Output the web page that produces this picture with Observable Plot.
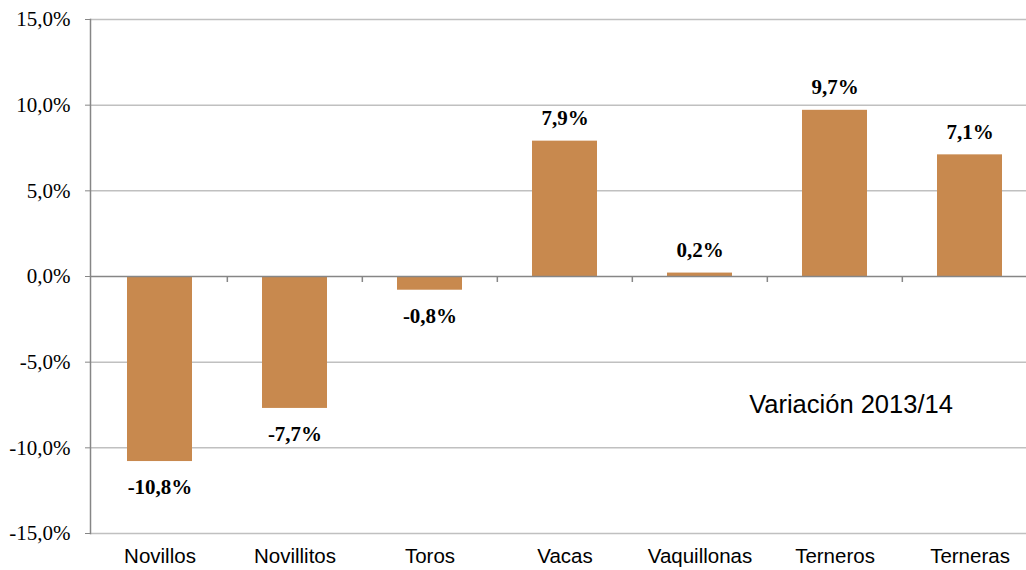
<!DOCTYPE html>
<html>
<head>
<meta charset="utf-8">
<script src="https://cdn.jsdelivr.net/npm/d3@7"></script>
<script src="https://cdn.jsdelivr.net/npm/@observablehq/plot@0.6"></script>
<style>
  html, body { margin: 0; padding: 0; background: #fff; overflow: hidden; }
  #chart { width: 1026px; height: 570px; }
</style>
</head>
<body>
<div id="chart"></div>
<script>
const categories = ["Novillos", "Novillitos", "Toros", "Vacas", "Vaquillonas", "Terneros", "Terneras"];
const values = [-10.8, -7.7, -0.8, 7.9, 0.2, 9.7, 7.1];
const yTicks = [-15, -10, -5, 0, 5, 10, 15];
const annotation = "Variación 2013/14";

const data = categories.map((c, i) => ({category: c, value: values[i]}));
const fmt = v => v.toFixed(1).replace(".", ",") + "%";

const xRange = [90.6, 1038];
const step = (xRange[1] - xRange[0]) / categories.length;

const barColor = "#C8894E";
const gridColor = "#C0C0C0";
const axisColor = "#868686";

const labelStyle = {
  x: "category", y: "value", text: d => fmt(d.value),
  fontSize: 21, fontWeight: "bold", fontFamily: "Liberation Serif", fill: "#000"
};

const chart = Plot.plot({
  width: 1026,
  height: 570,
  marginLeft: 90,
  marginRight: 0,
  marginTop: 19,
  marginBottom: 37,
  style: {background: "#fff", overflow: "visible"},
  x: {domain: categories, range: xRange, paddingInner: 0.52, paddingOuter: 0.26, label: null},
  y: {domain: [-15, 15], label: null},
  marks: [
    Plot.ruleY(yTicks.filter(d => d !== 0), {stroke: gridColor, strokeWidth: 1.5}),
    Plot.barY(data, {x: "category", y: "value", fill: barColor}),
    Plot.ruleY([0], {stroke: axisColor, strokeWidth: 1.5}),
    Plot.ruleX(categories.slice(1), {x: d => d, y1: 0, y2: -0.35, dx: -step / 2, stroke: axisColor, strokeWidth: 1.5}),
    Plot.frame({anchor: "left", stroke: axisColor, strokeWidth: 1.5}),
    Plot.axisY({
      ticks: yTicks, tickSize: 5, tickPadding: 15, tickFormat: fmt,
      stroke: axisColor, fontSize: 21, fontFamily: "Liberation Serif", fill: "#000"
    }),
    Plot.axisX({
      tickSize: 0, tickPadding: 15, fontSize: 20.5, fontFamily: "Liberation Sans", fill: "#000"
    }),
    Plot.text(data.filter(d => d.value >= 0), {...labelStyle, dy: -23}),
    Plot.text(data.filter(d => d.value < 0), {...labelStyle, dy: 26}),
    Plot.text([annotation], {
      x: [categories[5]], y: [-7.5], text: d => d, dx: 16,
      fontSize: 25.5, fontFamily: "Liberation Sans", fill: "#000"
    })
  ]
});
document.getElementById("chart").append(chart);
</script>
</body>
</html>
